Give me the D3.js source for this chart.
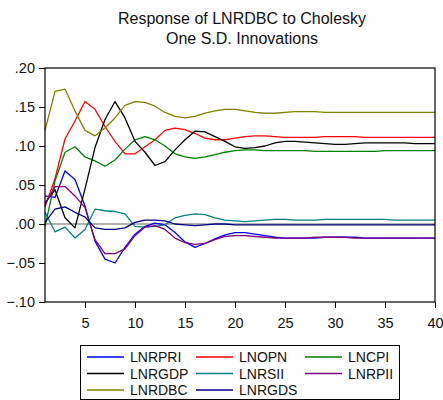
<!DOCTYPE html>
<html>
<head>
<meta charset="utf-8">
<script src="https://cdn.jsdelivr.net/npm/d3@7"></script>
<style>
  body { margin: 0; background: #fff; }
  svg { font-family: "Liberation Sans", Arial, sans-serif; }
</style>
</head>
<body>
<svg width="443" height="400"></svg>
<script>
// impulse responses, periods 1..40
var periods = d3.range(1, 41);

var LNRPRI = [0.036, 0.034, 0.068, 0.057, 0.023, -0.022, -0.045, -0.050, -0.030, -0.013,
    -0.003, 0.001, -0.001, -0.011, -0.023, -0.030, -0.025, -0.019, -0.014, -0.011,
    -0.011, -0.013, -0.015, -0.017, -0.018, -0.018, -0.018, -0.018, -0.017, -0.017,
    -0.017, -0.017, -0.018, -0.018, -0.018, -0.018, -0.018, -0.018, -0.018, -0.018];
var LNOPN = [0.022, 0.058, 0.109, 0.132, 0.157, 0.147, 0.125, 0.106, 0.090, 0.090,
    0.099, 0.108, 0.120, 0.123, 0.121, 0.116, 0.110, 0.108, 0.108, 0.110,
    0.112, 0.113, 0.113, 0.112, 0.111, 0.111, 0.111, 0.111, 0.112, 0.112,
    0.112, 0.112, 0.111, 0.111, 0.111, 0.111, 0.111, 0.111, 0.111, 0.111];
var LNCPI = [-0.003, 0.055, 0.092, 0.099, 0.086, 0.081, 0.074, 0.082, 0.096, 0.108,
    0.112, 0.108, 0.100, 0.090, 0.086, 0.084, 0.086, 0.089, 0.092, 0.094,
    0.095, 0.095, 0.094, 0.094, 0.094, 0.094, 0.094, 0.093, 0.093, 0.093,
    0.093, 0.093, 0.093, 0.093, 0.094, 0.094, 0.094, 0.094, 0.094, 0.094];
var LNRGDP = [0.027, 0.044, 0.008, -0.005, 0.045, 0.098, 0.134, 0.157, 0.136, 0.106,
    0.092, 0.075, 0.080, 0.095, 0.108, 0.119, 0.118, 0.112, 0.106, 0.099,
    0.097, 0.098, 0.100, 0.104, 0.106, 0.106, 0.105, 0.104, 0.103, 0.102,
    0.102, 0.103, 0.104, 0.104, 0.104, 0.104, 0.104, 0.103, 0.103, 0.103];
var LNRSII = [0.015, -0.010, -0.004, -0.018, -0.007, 0.019, 0.017, 0.016, 0.013, -0.003,
    -0.004, -0.003, -0.001, 0.008, 0.011, 0.013, 0.012, 0.008, 0.005, 0.004,
    0.003, 0.004, 0.005, 0.006, 0.006, 0.005, 0.005, 0.005, 0.006, 0.006,
    0.006, 0.006, 0.006, 0.006, 0.006, 0.005, 0.005, 0.005, 0.005, 0.005];
var LNRPII = [0.025, 0.048, 0.048, 0.036, 0.021, -0.020, -0.038, -0.038, -0.032, -0.015,
    -0.004, -0.002, -0.007, -0.018, -0.024, -0.026, -0.025, -0.020, -0.016, -0.015,
    -0.015, -0.016, -0.017, -0.018, -0.018, -0.018, -0.018, -0.017, -0.017, -0.017,
    -0.017, -0.018, -0.018, -0.018, -0.018, -0.018, -0.018, -0.018, -0.018, -0.018];
var LNRDBC = [0.120, 0.170, 0.173, 0.145, 0.120, 0.113, 0.123, 0.136, 0.152, 0.157,
    0.156, 0.151, 0.143, 0.138, 0.136, 0.138, 0.142, 0.145, 0.147, 0.147,
    0.145, 0.143, 0.142, 0.142, 0.143, 0.144, 0.144, 0.144, 0.143, 0.143,
    0.143, 0.143, 0.143, 0.143, 0.143, 0.143, 0.143, 0.143, 0.143, 0.143];
var LNRGDS = [0.002, 0.019, 0.022, 0.015, 0.009, -0.005, -0.007, -0.007, -0.005, 0.002,
    0.005, 0.005, 0.004, 0.000, -0.001, -0.002, -0.001, 0.000, 0.000, -0.001,
    -0.001, -0.001, -0.001, -0.001, -0.001, -0.001, -0.001, -0.001, -0.001, -0.001,
    -0.001, -0.001, -0.001, -0.001, -0.001, -0.001, -0.001, -0.001, -0.001, -0.001];

var seriesNames = ['LNRPRI', 'LNOPN', 'LNCPI', 'LNRGDP', 'LNRSII', 'LNRPII', 'LNRDBC', 'LNRGDS'];
var seriesValues = [LNRPRI, LNOPN, LNCPI, LNRGDP, LNRSII, LNRPII, LNRDBC, LNRGDS];
var colors = ['#0000ff', '#ff0000', '#008000', '#000000', '#008080', '#800080', '#808000', '#000080'];

var yTicks = [-0.10, -0.05, 0.00, 0.05, 0.10, 0.15, 0.20];
var xTicks = [5, 10, 15, 20, 25, 30, 35, 40];

var titleLines = ['Response of LNRDBC to Cholesky', 'One S.D. Innovations'];

var svg = d3.select('svg');

var plotLeft = 45, plotRight = 435, plotTop = 68, plotBottom = 302;

var scaleX = d3.scaleLinear().domain([1, 40]).range([plotLeft, plotRight]);
var scaleY = d3.scaleLinear().domain([-0.10, 0.20]).range([plotBottom, plotTop]);

function fmt(v){
    var s = d3.format('.2f')(v);
    return s.replace('0.', '.');
}

// title
svg.selectAll('.title')
    .data(titleLines)
    .enter()
    .append('text')
    .attr('class', 'title')
    .attr('x', 242)
    .attr('y', function(d, i){ return 24 + i * 20; })
    .attr('text-anchor', 'middle')
    .attr('font-size', '16px')
    .attr('fill', '#111')
    .text(function(d){ return d; });

// zero line
svg.append('line')
    .attr('x1', plotLeft).attr('x2', plotRight)
    .attr('y1', scaleY(0)).attr('y2', scaleY(0))
    .attr('stroke', '#999')
    .attr('stroke-width', 1.5);

// series
var line = d3.line()
    .x(function(d, i){ return scaleX(periods[i]); })
    .y(function(d){ return scaleY(d); });

svg.selectAll('.series')
    .data(seriesValues)
    .enter()
    .append('path')
    .attr('class', 'series')
    .attr('d', line)
    .attr('fill', 'none')
    .attr('stroke', function(d, i){ return colors[i]; })
    .attr('stroke-width', 1.3)
    .attr('stroke-linejoin', 'round');

// axes
var yAxis = svg.append('g')
    .attr('transform', 'translate(' + plotLeft + ',0)')
    .call(d3.axisLeft(scaleY).tickValues(yTicks).tickFormat(fmt).tickSize(6).tickPadding(4));

var xAxis = svg.append('g')
    .attr('transform', 'translate(0,' + plotBottom + ')')
    .call(d3.axisBottom(scaleX).tickValues(xTicks).tickSize(6).tickPadding(10));

[yAxis, xAxis].forEach(function(g){
    g.select('.domain').remove();
    g.selectAll('text').attr('font-size', '14.5px').attr('fill', '#111')
        .attr('font-family', '"Liberation Sans", Arial, sans-serif');
    g.selectAll('line').attr('stroke', '#000');
});

// frame
svg.append('rect')
    .attr('x', plotLeft).attr('y', plotTop)
    .attr('width', plotRight - plotLeft).attr('height', plotBottom - plotTop)
    .attr('fill', 'none')
    .attr('stroke', '#000')
    .attr('stroke-width', 1.2);

// legend
var legend = svg.append('g');

legend.append('rect')
    .attr('x', 80.5).attr('y', 345.5)
    .attr('width', 319).attr('height', 54)
    .attr('fill', 'none')
    .attr('stroke', '#000');

var items = legend.selectAll('.item')
    .data(seriesNames)
    .enter()
    .append('g')
    .attr('class', 'item')
    .attr('transform', function(d, i){
        return 'translate(' + (87 + (i % 3) * 109) + ',' + (357 + Math.floor(i / 3) * 16.5) + ')';
    });

items.append('line')
    .attr('x1', 0).attr('x2', 37)
    .attr('stroke', function(d, i){ return colors[i]; })
    .attr('stroke-width', 1.5);

items.append('text')
    .attr('x', 43)
    .attr('dy', '0.36em')
    .attr('font-size', '14px')
    .attr('fill', '#111')
    .text(function(d){ return d; });
</script>
</body>
</html>
